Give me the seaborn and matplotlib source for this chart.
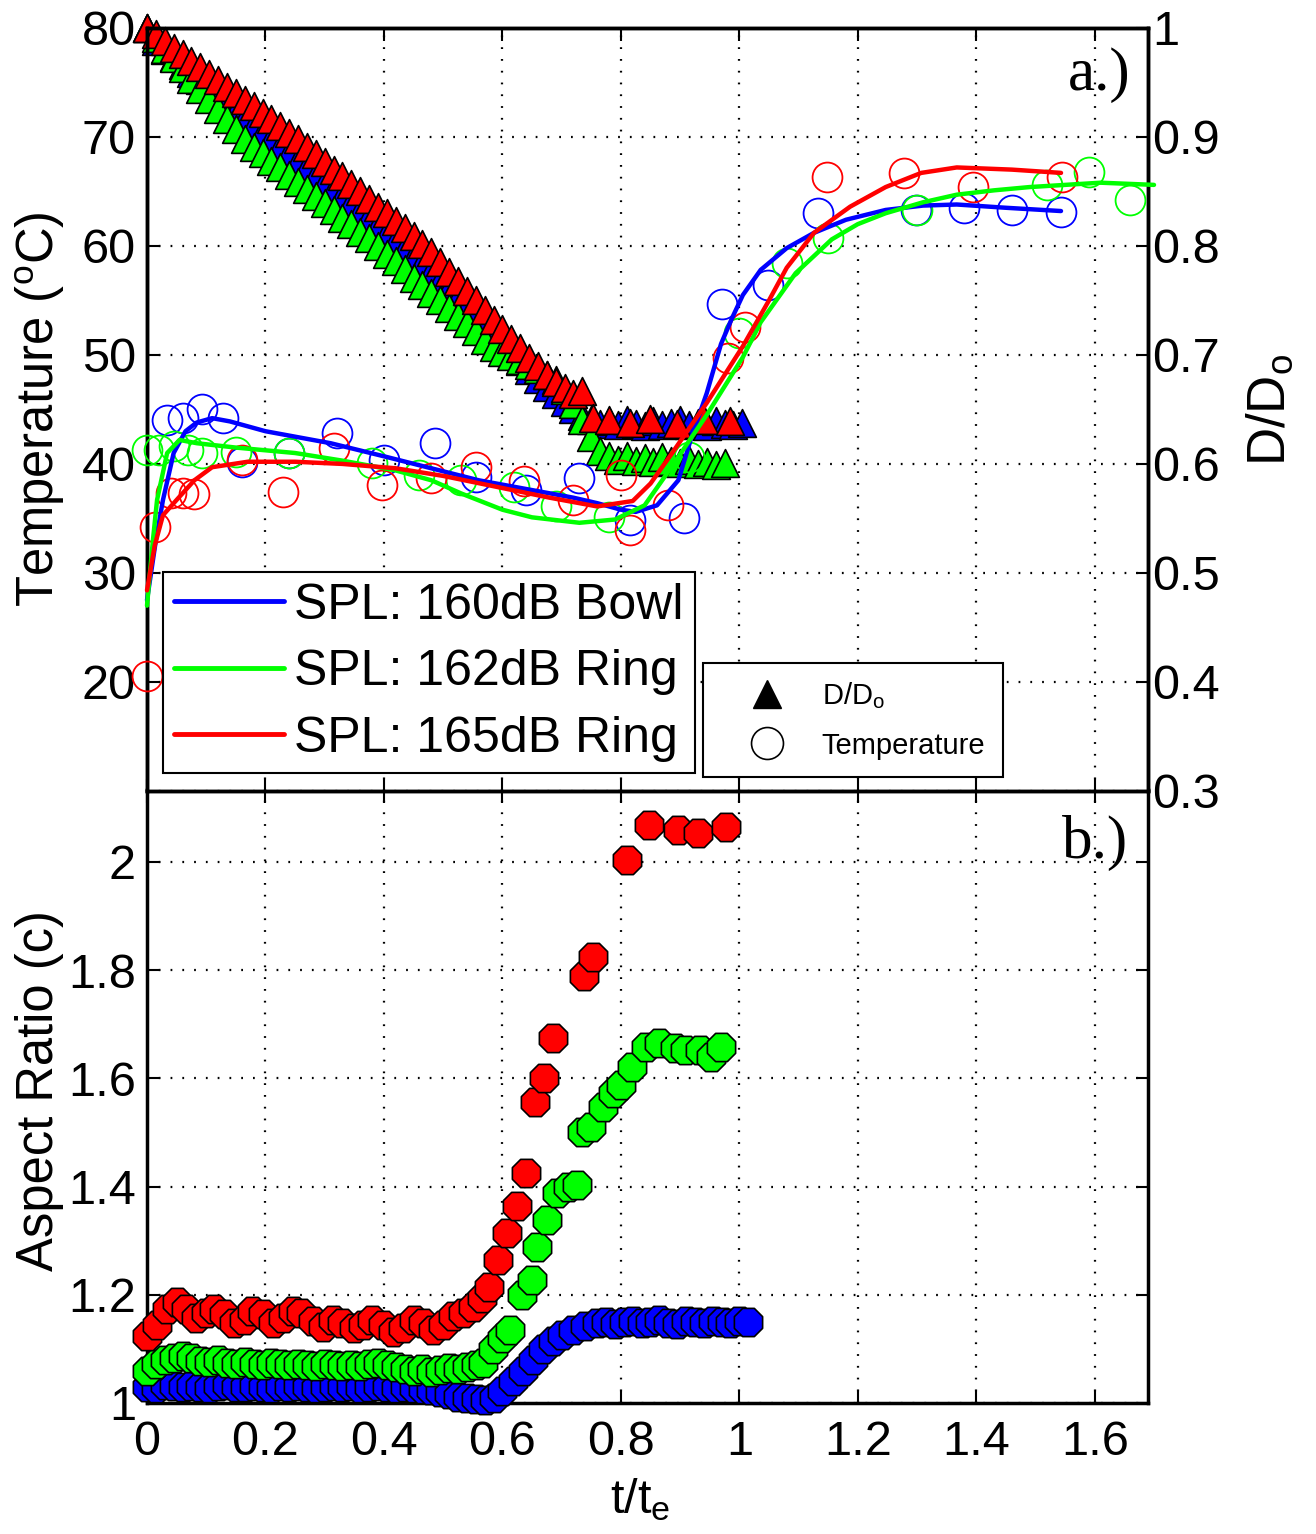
import matplotlib
matplotlib.use("Agg")
import matplotlib.pyplot as plt
import seaborn as sns
from matplotlib.lines import Line2D

# ---------------- DATA ----------------
# Panel a: D/D0 (right axis, triangles)
t_band = [0.000, 0.015, 0.030, 0.045, 0.060, 0.075, 0.090, 0.105, 0.120, 0.135,
          0.150, 0.165, 0.180, 0.195, 0.210, 0.225, 0.240, 0.255, 0.270, 0.285,
          0.300, 0.315, 0.330, 0.345, 0.360, 0.375, 0.390, 0.405, 0.420, 0.435,
          0.450, 0.465, 0.480, 0.495, 0.510, 0.525, 0.540, 0.555, 0.570, 0.585,
          0.600, 0.615, 0.630, 0.645, 0.660, 0.675, 0.690, 0.705, 0.720]

dd_band_blue = [1.000, .988, .980, .973, .966, .959, .952, .945, .939, .932,
                .925, .918, .912, .905, .899, .892, .886, .879, .873, .866,
                .860, .853, .847, .840, .833, .827, .820, .813, .806, .799,
                .792, .785, .777, .769, .761, .753, .745, .737, .728, .720,
                .711, .703, .694, .686, .678, .671, .664, .657, .650]
dd_band_green = [1.000, .991, .981, .972, .963, .953, .944, .935, .926, .916,
                 .907, .898, .891, .885, .878, .872, .865, .859, .852, .846,
                 .839, .833, .826, .820, .813, .807, .800, .793, .786, .779,
                 .771, .764, .757, .750, .743, .736, .729, .722, .714, .707,
                 .703, .699, .695, .691, .687, .682, .677, .668, .655]
dd_band_red = [1.000, .994, .988, .982, .976, .970, .964, .958, .952, .946,
               .940, .934, .928, .922, .916, .910, .904, .898, .891, .884,
               .877, .870, .864, .857, .850, .843, .836, .830, .823, .816,
               .809, .802, .794, .785, .776, .768, .759, .750, .741, .732,
               .724, .715, .706, .697, .690, .682, .675, .670, .664]

t_plat_blue = [0.735, 0.750, 0.765, 0.780, 0.795, 0.810, 0.825, 0.840, 0.855, 0.870,
               0.885, 0.900, 0.915, 0.930, 0.945, 0.960, 0.975, 0.990, 1.005]
dd_plat_blue = [.644, .640, .637, .639, .636, .640, .637, .635, .639, .636,
                .638, .640, .636, .638, .635, .639, .637, .636, .638]
t_plat_green = [0.735, 0.750, 0.765, 0.780, 0.795, 0.810, 0.825, 0.840, 0.855, 0.870,
                0.885, 0.900, 0.915, 0.930, 0.945, 0.960, 0.975]
dd_plat_green = [.640, .625, .612, .607, .604, .607, .603, .605, .602, .606,
                 .603, .601, .604, .600, .602, .599, .601]
t_plat_red = [0.735, 0.753, 0.780, 0.815, 0.850, 0.895, 0.940, 0.985]
dd_plat_red = [0.667, 0.642, 0.640, 0.638, 0.641, 0.637, 0.640, 0.639]

# Panel a: temperature measurements (open circles)
temp_t_blue = [0.034, 0.060, 0.093, 0.128, 0.160, 0.240, 0.320, 0.400, 0.486, 0.556,
               0.640, 0.730, 0.815, 0.906, 0.970, 1.048, 1.133, 1.298, 1.380, 1.460, 1.543]
temp_blue = [44.0, 44.2, 45.0, 44.2, 40.2, 41.0, 42.8, 40.4, 41.9, 38.8,
             37.6, 38.7, 34.9, 35.0, 54.7, 56.4, 63.0, 63.3, 63.5, 63.3, 63.1]
temp_t_green = [0.000, 0.020, 0.045, 0.070, 0.093, 0.150, 0.240, 0.380, 0.460, 0.530,
                0.620, 0.690, 0.780, 0.915, 1.000, 1.080, 1.150, 1.300, 1.520, 1.590, 1.660]
temp_green = [41.3, 41.3, 41.6, 41.3, 41.0, 41.1, 41.0, 40.1, 39.0, 38.5,
              37.9, 36.1, 35.1, 40.6, 52.0, 58.4, 60.7, 63.3, 65.6, 66.8, 64.2]
temp_t_red = [0.000, 0.013, 0.040, 0.060, 0.080, 0.160, 0.230, 0.316, 0.396, 0.480,
              0.556, 0.636, 0.720, 0.800, 0.815, 0.880, 0.980, 1.010, 1.148, 1.278, 1.395, 1.545]
temp_red = [20.5, 34.2, 37.3, 37.3, 37.2, 40.4, 37.4, 41.5, 38.1, 38.7,
            39.7, 38.4, 36.7, 39.0, 33.9, 36.2, 49.7, 52.6, 66.3, 66.7, 65.4, 66.3]

# Panel a: fitted temperature curves
fit_t_blue = [0.000, 0.015, 0.027, 0.045, 0.065, 0.084, 0.110, 0.140, 0.200, 0.310,
              0.400, 0.480, 0.560, 0.650, 0.720, 0.760, 0.800, 0.825, 0.861, 0.897,
              0.920, 0.945, 0.969, 0.987, 1.006, 1.036, 1.080, 1.126, 1.180, 1.247,
              1.310, 1.367, 1.450, 1.543]
fit_blue = [27.5, 33.0, 36.7, 41.0, 43.0, 43.8, 44.2, 43.9, 43.0, 41.9,
            40.7, 39.6, 38.5, 37.6, 36.9, 36.4, 35.8, 35.6, 36.2, 38.5,
            42.6, 46.5, 51.0, 53.3, 55.5, 57.8, 59.8, 61.2, 62.4, 63.3,
            63.7, 63.8, 63.5, 63.2]
fit_t_green = [0.000, 0.010, 0.017, 0.034, 0.055, 0.084, 0.150, 0.250, 0.330, 0.420,
               0.480, 0.530, 0.600, 0.650, 0.730, 0.790, 0.840, 0.884, 0.945, 1.006,
               1.036, 1.095, 1.156, 1.200, 1.247, 1.310, 1.367, 1.430, 1.490, 1.550,
               1.610, 1.700]
fit_green = [27.0, 33.0, 36.7, 41.0, 42.2, 41.9, 41.5, 41.0, 40.3, 39.4,
             38.5, 37.3, 35.8, 35.1, 34.6, 34.9, 36.2, 39.6, 44.5, 49.8,
             53.0, 57.5, 60.6, 62.0, 63.0, 64.0, 64.7, 65.1, 65.4, 65.6,
             65.8, 65.6]
fit_t_red = [0.000, 0.013, 0.027, 0.055, 0.080, 0.110, 0.170, 0.250, 0.330, 0.420,
             0.500, 0.590, 0.680, 0.760, 0.820, 0.850, 0.884, 0.945, 1.006, 1.050,
             1.080, 1.126, 1.187, 1.247, 1.307, 1.367, 1.460, 1.543]
fit_red = [28.4, 32.5, 35.3, 37.0, 38.5, 39.7, 40.2, 40.2, 40.0, 39.6,
           38.9, 37.9, 36.9, 36.1, 36.6, 38.2, 40.8, 45.6, 50.8, 55.0,
           58.0, 61.2, 63.6, 65.4, 66.7, 67.2, 67.0, 66.7]

# Panel b: aspect ratio
ar_t_blue = [0.000, 0.015, 0.030, 0.045, 0.060, 0.075, 0.090, 0.105, 0.120, 0.135,
             0.150, 0.165, 0.180, 0.195, 0.210, 0.225, 0.240, 0.255, 0.270, 0.285,
             0.300, 0.315, 0.330, 0.345, 0.360, 0.375, 0.390, 0.405, 0.420, 0.435,
             0.450, 0.466, 0.480, 0.495, 0.510, 0.525, 0.540, 0.555, 0.570, 0.585,
             0.600, 0.618, 0.635, 0.651, 0.668, 0.685, 0.700, 0.720, 0.740, 0.760,
             0.775, 0.790, 0.805, 0.820, 0.835, 0.850, 0.865, 0.880, 0.895, 0.910,
             0.925, 0.940, 0.955, 0.970, 0.985, 1.000, 1.015]
ar_blue = [1.030, 1.028, 1.033, 1.031, 1.029, 1.032, 1.030, 1.028, 1.031, 1.033,
           1.030, 1.029, 1.032, 1.030, 1.028, 1.031, 1.029, 1.032, 1.030, 1.027,
           1.030, 1.032, 1.029, 1.031, 1.028, 1.030, 1.032, 1.029, 1.027, 1.030,
           1.028, 1.026, 1.024, 1.020, 1.016, 1.012, 1.010, 1.007, 1.006, 1.010,
           1.022, 1.040, 1.060, 1.080, 1.100, 1.115, 1.125, 1.135, 1.142, 1.147,
           1.150, 1.146, 1.149, 1.152, 1.147, 1.150, 1.153, 1.148, 1.146, 1.151,
           1.149, 1.147, 1.152, 1.150, 1.148, 1.151, 1.149]
ar_t_green = [0.000, 0.015, 0.030, 0.045, 0.060, 0.075, 0.090, 0.105, 0.120, 0.135,
              0.150, 0.165, 0.180, 0.195, 0.210, 0.225, 0.240, 0.255, 0.270, 0.285,
              0.300, 0.315, 0.330, 0.345, 0.360, 0.375, 0.390, 0.405, 0.420, 0.435,
              0.450, 0.465, 0.480, 0.495, 0.510, 0.525, 0.540, 0.555, 0.567, 0.584,
              0.600, 0.613, 0.633, 0.650, 0.658, 0.675, 0.692, 0.710, 0.726, 0.734,
              0.750, 0.770, 0.787, 0.800, 0.818, 0.842, 0.864, 0.891, 0.909, 0.933,
              0.952, 0.969]
ar_green = [1.060, 1.072, 1.080, 1.083, 1.086, 1.084, 1.078, 1.076, 1.079, 1.074,
            1.072, 1.075, 1.073, 1.071, 1.074, 1.072, 1.070, 1.073, 1.071, 1.069,
            1.072, 1.070, 1.068, 1.071, 1.069, 1.072, 1.074, 1.070, 1.066, 1.063,
            1.060, 1.062, 1.058, 1.061, 1.064, 1.062, 1.066, 1.070, 1.074, 1.100,
            1.120, 1.135, 1.200, 1.227, 1.288, 1.338, 1.388, 1.400, 1.403, 1.500,
            1.510, 1.547, 1.573, 1.588, 1.621, 1.658, 1.665, 1.656, 1.652, 1.652,
            1.640, 1.658]
ar_t_red = [0.000, 0.017, 0.034, 0.051, 0.065, 0.082, 0.099, 0.113, 0.130, 0.147,
            0.164, 0.178, 0.195, 0.212, 0.230, 0.246, 0.260, 0.280, 0.297, 0.314,
            0.330, 0.350, 0.364, 0.380, 0.398, 0.415, 0.432, 0.450, 0.466, 0.483,
            0.500, 0.517, 0.534, 0.550, 0.565, 0.578, 0.593, 0.607, 0.624, 0.640,
            0.655, 0.670, 0.685, 0.738, 0.753, 0.810, 0.847, 0.897, 0.930, 0.977]
ar_red = [1.123, 1.145, 1.173, 1.187, 1.173, 1.157, 1.166, 1.173, 1.164, 1.148,
          1.154, 1.170, 1.164, 1.148, 1.157, 1.170, 1.166, 1.151, 1.141, 1.154,
          1.148, 1.139, 1.145, 1.154, 1.145, 1.132, 1.139, 1.154, 1.148, 1.135,
          1.145, 1.160, 1.166, 1.178, 1.194, 1.214, 1.264, 1.314, 1.364, 1.425,
          1.556, 1.600, 1.675, 1.790, 1.825, 2.004, 2.068, 2.059, 2.054, 2.065]

series_labels = ['SPL: 160dB Bowl', 'SPL: 162dB Ring', 'SPL: 165dB Ring']
marker_labels = [r'D/D$_{\mathrm{o}}$', 'Temperature']
x_ticks = [0, 0.2, 0.4, 0.6, 0.8, 1.0, 1.2, 1.4, 1.6]
x_ticklabels = ['0', '0.2', '0.4', '0.6', '0.8', '1', '1.2', '1.4', '1.6']
temp_ticks = [20, 30, 40, 50, 60, 70, 80]
dd_ticks = [0.3, 0.4, 0.5, 0.6, 0.7, 0.8, 0.9, 1.0]
dd_ticklabels = ['0.3', '0.4', '0.5', '0.6', '0.7', '0.8', '0.9', '1']
ar_ticks = [1.0, 1.2, 1.4, 1.6, 1.8, 2.0]
ar_ticklabels = ['1', '1.2', '1.4', '1.6', '1.8', '2']

# ---------------- STYLE ----------------
sns.set_theme(style="white")
plt.rcParams.update({
    "font.family": ["Liberation Sans", "DejaVu Sans"],
    "mathtext.fontset": "custom",
    "mathtext.rm": "Liberation Sans",
    "mathtext.it": "Liberation Sans:italic",
    "mathtext.bf": "Liberation Sans:bold",
    "axes.edgecolor": "black",
    "axes.linewidth": 2.5,
    "xtick.color": "black",
    "ytick.color": "black",
    "text.color": "black",
    "axes.labelcolor": "black",
})

BLUE, GREEN, RED = "#0000ff", "#00ff00", "#ff0000"
GRID_KW = dict(color="black", linestyle=(0, (0.8, 4.5)), linewidth=1.6)
LBL = 35
YLBL = 36.5

fig = plt.figure(figsize=(13.16, 15.34), dpi=100)
ax1 = fig.add_axes([0.1117, 0.4844, 0.7607, 0.4974])
ax2 = ax1.twinx()
ax3 = fig.add_axes([0.1117, 0.0854, 0.7607, 0.3996])

# layering: ax2 (triangles + grid) below ax1 (curves, circles, legends)
ax1.set_zorder(2)
ax2.set_zorder(1)
ax1.patch.set_visible(False)
ax2.patch.set_visible(True)
ax2.patch.set_facecolor("white")

# ---- panel a: triangles on right axis ----
tri_sets = [
    (t_band + t_plat_blue, dd_band_blue + dd_plat_blue, BLUE),
    (t_band + t_plat_green, dd_band_green + dd_plat_green, GREEN),
    (t_band + t_plat_red, dd_band_red + dd_plat_red, RED),
]
for tt, dd, c in tri_sets:
    sns.scatterplot(x=tt, y=dd, ax=ax2, marker="^", s=20 ** 2, color=c,
                    edgecolor="black", linewidth=1.2, legend=False,
                    clip_on=False, zorder=2)

# ---- panel a: temperature circles and curves ----
temp_sets = [
    (temp_t_blue, temp_blue, fit_t_blue, fit_blue, BLUE),
    (temp_t_green, temp_green, fit_t_green, fit_green, GREEN),
    (temp_t_red, temp_red, fit_t_red, fit_red, RED),
]
for tt, tv, ft, fv, c in temp_sets:
    ax1.plot(tt, tv, ls="none", marker="o", ms=21.5, mfc="none", mec=c,
             mew=1.3, clip_on=False, zorder=3)
for tt, tv, ft, fv, c in temp_sets:
    sns.lineplot(x=ft, y=fv, ax=ax1, color=c, lw=3.2, sort=False,
                 estimator=None, legend=False, clip_on=False, zorder=4)

ax1.set_xlim(0, 1.69)
ax1.set_ylim(10, 80)
ax2.set_ylim(0.3, 1.0)
ax1.set_xticks(x_ticks)
ax1.set_yticks(temp_ticks)
ax1.set_yticklabels([str(v) for v in temp_ticks])
ax2.set_yticks(dd_ticks)
ax2.set_yticklabels(dd_ticklabels)

ax1.tick_params(axis="both", direction="in", length=9, width=1.5,
                labelsize=LBL, top=True, bottom=True, left=True, right=False,
                labelbottom=False, labeltop=False)
ax1.tick_params(axis="y", pad=8)
ax2.tick_params(axis="y", direction="in", length=9, width=1.5, labelsize=LBL,
                right=True, left=False, labelright=True, labelleft=False, pad=3)

# grid lives on ax2 so it stays below the triangles
ax2.xaxis.set_visible(True)
ax2.tick_params(axis="x", bottom=False, top=False, labelbottom=False, labeltop=False)
ax2.set_axisbelow(True)
ax2.grid(True, **GRID_KW)
ax1.grid(False)

ax1.set_ylabel(r"Temperature ($^{\mathrm{o}}$C)", fontsize=YLBL, va="center")
ax1.yaxis.set_label_coords(-0.107, 0.5)
ax2.set_ylabel(r"D/D$_{\mathrm{o}}$", fontsize=38, rotation=90, va="center")
ax2.yaxis.set_label_coords(1.122, 0.5)

ax1.text(0.982, 0.919, "a.)", transform=ax1.transAxes, ha="right",
         va="baseline", fontsize=44, family="Liberation Serif")

# legends
h_lines = [Line2D([0], [0], color=c, lw=3.5) for c in (BLUE, GREEN, RED)]
leg1 = ax1.legend(h_lines, series_labels, loc="upper left",
                  bbox_to_anchor=(0.016, 0.287), borderaxespad=0, fontsize=36,
                  frameon=True, fancybox=False, edgecolor="black", framealpha=1,
                  handlelength=2.2, handletextpad=0.2, borderpad=0.22,
                  labelspacing=0.41)
leg1.get_frame().set_linewidth(1.5)
ax1.add_artist(leg1)

h_mark = [Line2D([0], [0], ls="none", marker="^", color="black", ms=20),
          Line2D([0], [0], ls="none", marker="o", mfc="none", mec="black",
                 ms=23, mew=1.2)]
leg2 = ax1.legend(h_mark, marker_labels, loc="upper left",
                  bbox_to_anchor=(0.5554, 0.1678), borderaxespad=0, fontsize=21,
                  frameon=True, fancybox=False, edgecolor="black", framealpha=1,
                  handlelength=3.18, handletextpad=0.29, borderpad=0.6,
                  labelspacing=0.7)
leg2.get_frame().set_linewidth(1.5)

# ---- panel b: aspect ratio ----
ar_sets = [(ar_t_blue, ar_blue, BLUE), (ar_t_green, ar_green, GREEN),
           (ar_t_red, ar_red, RED)]
for tt, av, c in ar_sets:
    sns.scatterplot(x=tt, y=av, ax=ax3, marker="8", s=22 ** 2, color=c,
                    edgecolor="black", linewidth=1.2, legend=False,
                    clip_on=False, zorder=3)

ax3.set_xlim(0, 1.69)
ax3.set_ylim(1.0, 2.133)
ax3.set_xticks(x_ticks)
ax3.set_xticklabels(x_ticklabels)
ax3.set_yticks(ar_ticks)
ax3.set_yticklabels(ar_ticklabels)
ax3.tick_params(axis="both", direction="in", length=9, width=1.5,
                labelsize=LBL, top=True, bottom=True, left=True, right=True)
ax3.tick_params(axis="x", pad=12)
ax3.tick_params(axis="y", pad=8)
ax3.set_axisbelow(True)
ax3.grid(True, **GRID_KW)

ax3.set_ylabel("Aspect Ratio (c)", fontsize=YLBL, va="center")
ax3.yaxis.set_label_coords(-0.107, 0.51)
ax3.set_xlabel(r"t/t$_{\mathrm{e}}$", fontsize=LBL, va="center")
ax3.xaxis.set_label_coords(0.4925, -0.158)

ax3.text(0.98, 0.889, "b.)", transform=ax3.transAxes, ha="right",
         va="baseline", fontsize=44, family="Liberation Serif")

fig.savefig("out.png", dpi=100)
